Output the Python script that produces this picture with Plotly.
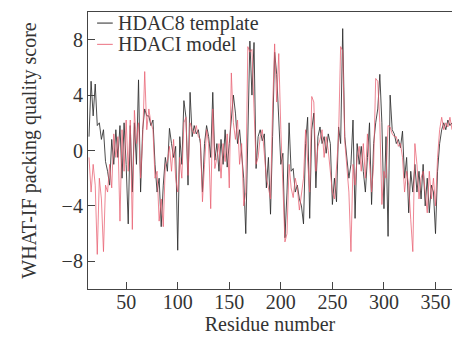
import plotly.graph_objects as go

residues = list(range(14, 367, 2))

hdac8_template = [
    1.0, 5.0, 2.5, 4.8, 1.8, 2.0, 0.8, 1.5, -0.8,
    -1.5, -2.5, 0.8, -1.0, 1.5, -0.5, 1.8, -2.0, 2.0, -1.0,
    -5.3, 1.8, -3.0, 2.0, -1.0, 5.1, -3.0, 1.5, 3.0, 2.5,
    2.5, 1.8, 2.2, -1.0, -3.0, -2.0, -5.5, -2.5, -0.5, -1.5,
    1.6, 0.5, -0.5, 0.3, -7.2, 1.0, -1.0, 3.6, 2.4, -2.5,
    4.2, 1.0, 1.8, 1.2, 1.5, 0.5, -3.0, 0.5, 1.8, 1.0,
    -0.5, 4.2, -0.7, 0.5, -1.5, 0.8, -1.0, 1.5, -1.2, 0.5,
    2.0, 4.0, 2.7, 0.5, 1.5, 0.0, -2.0, -6.0, 2.0, 7.9,
    4.0, 7.8, -1.3, 1.0, 1.5, 0.7, 1.2, -2.7, -0.5, -4.6,
    1.0, 7.1, 5.5, 2.0, -1.0, -0.2, -6.3, -3.0, 2.0, -1.5,
    -1.3, -3.0, -2.5, -3.5, -4.0, -5.3, 0.5, 2.4, -4.9, 1.5,
    2.7, -2.7, 1.0, 1.7, 0.5, 1.0, -0.2, 1.2, 0.5, -3.9,
    -2.0, -3.7, 1.7, 0.5, 8.8, 1.0, -0.3, -2.0, -1.0, 2.2,
    -4.9, 0.5, -1.0, 0.3, -1.5, -3.0, -0.5, 2.0, -3.9, 0.5,
    2.0, 3.0, 5.5, 2.0, -4.2, 1.0, -6.2, 4.0, 1.5, 1.2,
    0.5, 0.8, 0.2, 1.4, -2.0, -0.5, -4.5, -1.5, -3.0, -1.0,
    -3.0, -1.5, -3.5, -1.0, -4.0, -2.0, -4.5, -2.5, -3.0, -6.0,
    -1.5, 0.5, 1.5, 2.0, 1.5, 2.2, 1.8, 2.0,
]

hdaci_model = [
    -0.5, -3.0, -1.0, -2.5, -7.5, -2.0, -3.5, -7.3, -2.5,
    -3.0, -1.0, -2.7, 1.2, -0.5, 1.0, -5.1, 1.5, -1.5, 2.2,
    -1.5, 2.2, -5.7, 2.9, 0.5, 2.0, -2.0, 0.8, 5.7, 1.5,
    3.0, 2.0, 1.5, -2.0, -1.5, -5.1, -3.5, -5.5, -1.0, -0.8,
    0.3, -1.5, 0.8, -2.0, -3.0, -0.5, -2.0, 2.0, 2.4, -1.8,
    2.0, 1.5, 1.2, 1.8, 1.0, 0.8, -3.7, -1.0, 1.5, 0.5,
    -4.2, 3.0, -1.3, -0.5, 0.5, -2.0, 0.5, -0.8, 1.2, -2.7,
    5.6, 2.0, 0.8, 2.2, -1.0, 0.5, -4.0, -3.0, 7.5, 7.1,
    7.3, 3.0, -1.0, -0.5, 1.0, 1.5, -0.3, -2.0, -2.7, -3.5,
    3.0, 7.7, 3.5, 7.0, 1.5, -2.0, -6.6, -6.0, -1.0, -2.7,
    -3.4, -2.0, -2.7, -4.3, -3.0, -2.0, 1.5, -0.5, -3.0, 3.9,
    3.5, -1.5, 0.3, 0.8, 1.5, -0.5, 1.0, 0.0, -1.5, -3.0,
    -3.5, -1.5, 1.0, 7.5, 7.2, 0.7, -1.5, -3.0, -7.3, -1.0,
    -2.5, -0.5, 0.3, -1.5, 0.5, -2.0, 1.2, -1.0, -3.0, -1.0,
    5.2, 5.0, 2.0, -3.9, -1.5, -2.0, 1.8, 1.7, 1.2, 1.0,
    1.0, 0.3, 0.5, -0.5, -3.0, -1.5, -2.5, -5.0, -7.3, 0.5,
    -1.0, -3.5, -2.0, -1.5, -3.0, -4.5, -1.5, -3.5, -2.0, -4.0,
    -0.5, 1.5, 2.4, 1.5, 2.0, 1.7, 2.4, 1.5,
]

series_names = ["HDAC8 template", "HDACI model"]
x_ticks = [50, 100, 150, 200, 250, 300, 350]
y_ticks = [-8, -4, 0, 4, 8]

FONT = "Liberation Serif, Times New Roman, serif"
black = "rgba(45,45,45,0.85)"
red = "rgba(232,95,112,0.75)"

fig = go.Figure()
fig.add_trace(go.Scatter(x=residues, y=hdac8_template, mode="lines",
                         name=series_names[0], line=dict(color=black, width=1)))
fig.add_trace(go.Scatter(x=residues, y=hdaci_model, mode="lines",
                         name=series_names[1], line=dict(color=red, width=1)))

axis_common = dict(showgrid=False, zeroline=False, showline=True, linecolor="#444",
                   linewidth=1.2, mirror=True, ticks="inside", ticklen=7,
                   tickcolor="#444", tickwidth=1.2, automargin=False,
                   tickfont=dict(family=FONT, size=20, color="#333"))

fig.update_xaxes(range=[13, 366], tickvals=x_ticks, ticklabelstandoff=-5,
                 title=dict(text="Residue number", font=dict(family=FONT, size=20, color="#333"), standoff=2),
                 **axis_common)
fig.update_yaxes(range=[-10, 10], tickvals=y_ticks,
                 ticktext=[("\u2212" + str(-v)) if v < 0 else str(v) for v in y_ticks],
                 title=dict(text="WHAT-IF packing quality score", font=dict(family=FONT, size=20, color="#333"), standoff=19),
                 **axis_common)

# legend drawn manually (short swatches as in the reference)
legend_rows = [(0.960, black), (0.883, red)]
for (yy, col), name in zip(legend_rows, series_names):
    fig.add_shape(type="line", xref="paper", yref="paper", x0=0.025, x1=0.068, y0=yy, y1=yy,
                  line=dict(color=col, width=1.2))
    fig.add_annotation(xref="paper", yref="paper", x=0.078, y=yy, text=name, showarrow=False,
                       xanchor="left", yanchor="middle",
                       font=dict(family=FONT, size=20, color="#333"))

fig.update_layout(width=452, height=340, margin=dict(l=88, r=0, t=12, b=51, autoexpand=False),
                  plot_bgcolor="white", paper_bgcolor="white", showlegend=False,
                  font=dict(family=FONT, color="#333"))

fig.write_html("out.html", config={"displayModeBar": False},
               post_script="document.body.style.margin='0';document.body.style.overflow='hidden';")
